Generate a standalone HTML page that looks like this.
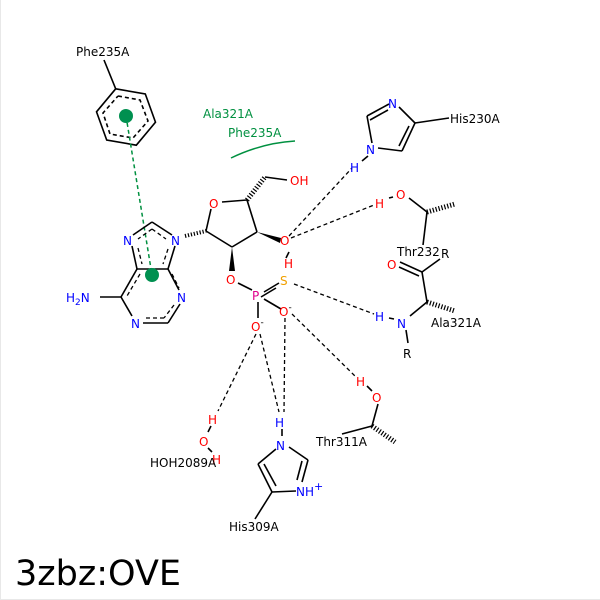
<!DOCTYPE html>
<html><head><meta charset="utf-8"><style>
html,body{margin:0;padding:0;background:#fff;width:600px;height:600px;overflow:hidden}
svg{display:block}
text{font-family:"DejaVu Sans","Liberation Sans",sans-serif;font-size:12px}
.b{stroke:#000;stroke-width:1.6;fill:none}
.d{stroke:#000;stroke-width:1.3;fill:none;stroke-dasharray:4,3}
.hs{stroke:#000;stroke-dasharray:1.2,1.8}
.r{fill:#f00}.n{fill:#00f}.k{fill:#000}
</style></head><body>
<svg width="600" height="600" viewBox="0 0 600 600" xmlns="http://www.w3.org/2000/svg">
<rect width="600" height="600" fill="#fff"/>
<line x1="0.5" y1="0" x2="0.5" y2="600" stroke="#e8e8e8"/>
<line x1="0" y1="599.5" x2="600" y2="599.5" stroke="#e8e8e8"/>
<polygon class="b" points="115.7,88.8 145.3,94 155.5,122.2 136.3,145.2 106.7,140 96.5,111.8"/>
<polyline class="b" stroke-dasharray="4,3" points="118,96 140,100 148,121 133,138 110,134 103,113 118,96"/>
<line class="b" x1="104" y1="60" x2="115.7" y2="88.8"/>
<text x="76" y="56" class="k">Phe235A</text>
<line x1="126" y1="116" x2="152" y2="275" stroke="#009040" stroke-width="1.5" stroke-dasharray="4,3"/>
<circle cx="126" cy="116" r="7" fill="#009050"/>
<text x="203" y="118" fill="#009040">Ala321A</text>
<text x="228" y="137" fill="#009040">Phe235A</text>
<path d="M231,158 Q262,143 295,141" stroke="#009040" stroke-width="1.5" fill="none"/>
<g class="b">
<line x1="152" y1="222" x2="133" y2="235"/>
<line x1="152" y1="222" x2="172" y2="235"/>
<line x1="132" y1="246" x2="137" y2="269"/>
<line x1="175" y1="246" x2="168" y2="269"/>
<line x1="137" y1="269" x2="168" y2="269"/>
<line x1="168" y1="269" x2="179" y2="290"/>
<line x1="180" y1="304" x2="168" y2="323"/>
<line x1="168" y1="323" x2="143" y2="323"/>
<line x1="132" y1="316" x2="121" y2="297"/>
<line x1="121" y1="297" x2="137" y2="269"/>
<line x1="100" y1="297" x2="121" y2="297"/>
</g>
<g class="d">
<line x1="152" y1="229" x2="138" y2="239"/>
<line x1="152" y1="229" x2="166" y2="239"/>
<line x1="138" y1="248" x2="142" y2="264"/>
<line x1="168" y1="249" x2="163" y2="264"/>
<line x1="172" y1="274" x2="179" y2="288"/>
<line x1="174" y1="305" x2="164" y2="318"/>
<line x1="164" y1="318" x2="144" y2="318"/>
<line x1="140" y1="274" x2="127" y2="296"/>
</g>
<circle cx="152" cy="275" r="7" fill="#009050"/>
<text x="123" y="245" class="n">N</text>
<text x="171" y="245" class="n">N</text>
<text x="177" y="302" class="n">N</text>
<text x="131" y="328" class="n">N</text>
<text x="66" y="302" class="n">H<tspan font-size="9" dy="3">2</tspan><tspan dy="-3">N</tspan></text>
<line class="hs" x1="185" y1="236" x2="206" y2="231" style="stroke-width:4"/>
<g class="b">
<line x1="206" y1="231" x2="211" y2="209"/>
<line x1="222" y1="202" x2="247" y2="200"/>
<line x1="247" y1="200" x2="257" y2="232"/>
<line x1="257" y1="232" x2="232" y2="247"/>
<line x1="232" y1="247" x2="206" y2="231"/>
<line x1="265" y1="177" x2="287" y2="180"/>
<line x1="286" y1="258" x2="289" y2="252"/>
<line x1="238" y1="283" x2="252" y2="290"/>
<line x1="264" y1="292" x2="279" y2="283"/>
<line x1="261" y1="297" x2="276" y2="288"/>
<line x1="264" y1="299" x2="281" y2="309"/>
<line x1="258" y1="302" x2="258" y2="318"/>
</g>
<line class="hs" x1="247" y1="200" x2="265" y2="177" style="stroke-width:5"/>
<polygon points="257,232 281,238 280,243" fill="#000"/>
<polygon points="232,247 229,271 235,271" fill="#000"/>
<text x="209" y="208" class="r">O</text>
<text x="290" y="185" class="r">OH</text>
<text x="280" y="245" class="r">O</text>
<text x="284" y="268" class="r">H</text>
<text x="226" y="284" class="r">O</text>
<text x="252" y="300" fill="#e0008c">P</text>
<text x="280" y="285" fill="#f0a000">S</text>
<text x="279" y="316" class="r">O<tspan font-size="9" dy="-6" fill="#000">-</tspan></text>
<text x="251" y="331" class="r">O<tspan font-size="9" dy="-6" fill="#000">-</tspan></text>
<g class="d">
<line x1="289" y1="236" x2="352" y2="168"/>
<line x1="291" y1="238" x2="374" y2="205"/>
<line x1="294" y1="284" x2="374" y2="314"/>
<line x1="292" y1="314" x2="356" y2="377"/>
<line x1="256" y1="334" x2="218" y2="411"/>
<line x1="260" y1="334" x2="279" y2="412"/>
<line x1="285" y1="318" x2="284" y2="412"/>
</g>
<g class="b">
<line x1="362" y1="161" x2="368" y2="156"/>
<line x1="372" y1="143" x2="367" y2="116"/>
<line x1="367" y1="116" x2="389" y2="104"/>
<line x1="370" y1="120" x2="388" y2="110"/>
<line x1="399" y1="107" x2="415" y2="123"/>
<line x1="415" y1="123" x2="402" y2="151"/>
<line x1="409" y1="126" x2="399" y2="146"/>
<line x1="402" y1="151" x2="378" y2="148"/>
<line x1="415" y1="123" x2="449" y2="118"/>
</g>
<text x="366" y="154" class="n">N</text>
<text x="388" y="108" class="n">N</text>
<text x="350" y="172" class="n">H</text>
<text x="450" y="123" class="k">His230A</text>
<text x="375" y="208" class="r">H</text>
<text x="396" y="199" class="r">O</text>
<g class="b">
<line x1="389" y1="198" x2="393" y2="197"/>
<line x1="409" y1="198" x2="427" y2="212"/>
<line x1="427" y1="212" x2="423" y2="245"/>
</g>
<line class="hs" x1="427" y1="212" x2="455" y2="204" style="stroke-width:5"/>
<text x="397" y="256" class="k">Thr232</text>
<text x="387" y="269" class="r">O</text>
<text x="441" y="258" class="k">R</text>
<g class="b">
<line x1="400" y1="262" x2="422" y2="272"/>
<line x1="399" y1="267" x2="419" y2="276"/>
<line x1="422" y1="272" x2="440" y2="259"/>
<line x1="422" y1="272" x2="427" y2="302"/>
<line x1="427" y1="302" x2="410" y2="316"/>
<line x1="389" y1="318" x2="394" y2="319"/>
<line x1="406" y1="330" x2="408" y2="343"/>
</g>
<line class="hs" x1="427" y1="302" x2="455" y2="311" style="stroke-width:5"/>
<text x="375" y="321" class="n">H</text>
<text x="397" y="328" class="n">N</text>
<text x="403" y="358" class="k">R</text>
<text x="431" y="327" class="k">Ala321A</text>
<text x="356" y="386" class="r">H</text>
<text x="372" y="402" class="r">O</text>
<g class="b">
<line x1="367" y1="386" x2="372" y2="391"/>
<line x1="378" y1="404" x2="372" y2="426"/>
<line x1="372" y1="426" x2="342" y2="434"/>
</g>
<line class="hs" x1="372" y1="426" x2="395" y2="442" style="stroke-width:5"/>
<text x="316" y="446" class="k">Thr311A</text>
<text x="208" y="424" class="r">H</text>
<text x="199" y="446" class="r">O</text>
<text x="212" y="464" class="r">H</text>
<line class="b" x1="211" y1="426" x2="208" y2="432"/>
<line class="b" x1="208" y1="448" x2="212" y2="452"/>
<text x="150" y="467" class="k">HOH2089A</text>
<text x="275" y="427" class="n">H</text>
<text x="276" y="450" class="n">N</text>
<text x="296" y="496" class="n">NH<tspan dy="-6" font-size="11">+</tspan></text>
<g class="b">
<line x1="282" y1="429" x2="282" y2="436"/>
<line x1="289" y1="447" x2="308" y2="460"/>
<line x1="308" y1="460" x2="302" y2="482"/>
<line x1="302" y1="461" x2="297" y2="480"/>
<line x1="296" y1="491" x2="272" y2="492"/>
<line x1="272" y1="492" x2="258" y2="464"/>
<line x1="276" y1="486" x2="264" y2="464"/>
<line x1="258" y1="464" x2="276" y2="449"/>
<line x1="272" y1="492" x2="255" y2="519"/>
</g>
<text x="229" y="531" class="k">His309A</text>
<text x="15" y="585" style="font-size:35px" class="k">3zbz:OVE</text>
</svg>
</body></html>
